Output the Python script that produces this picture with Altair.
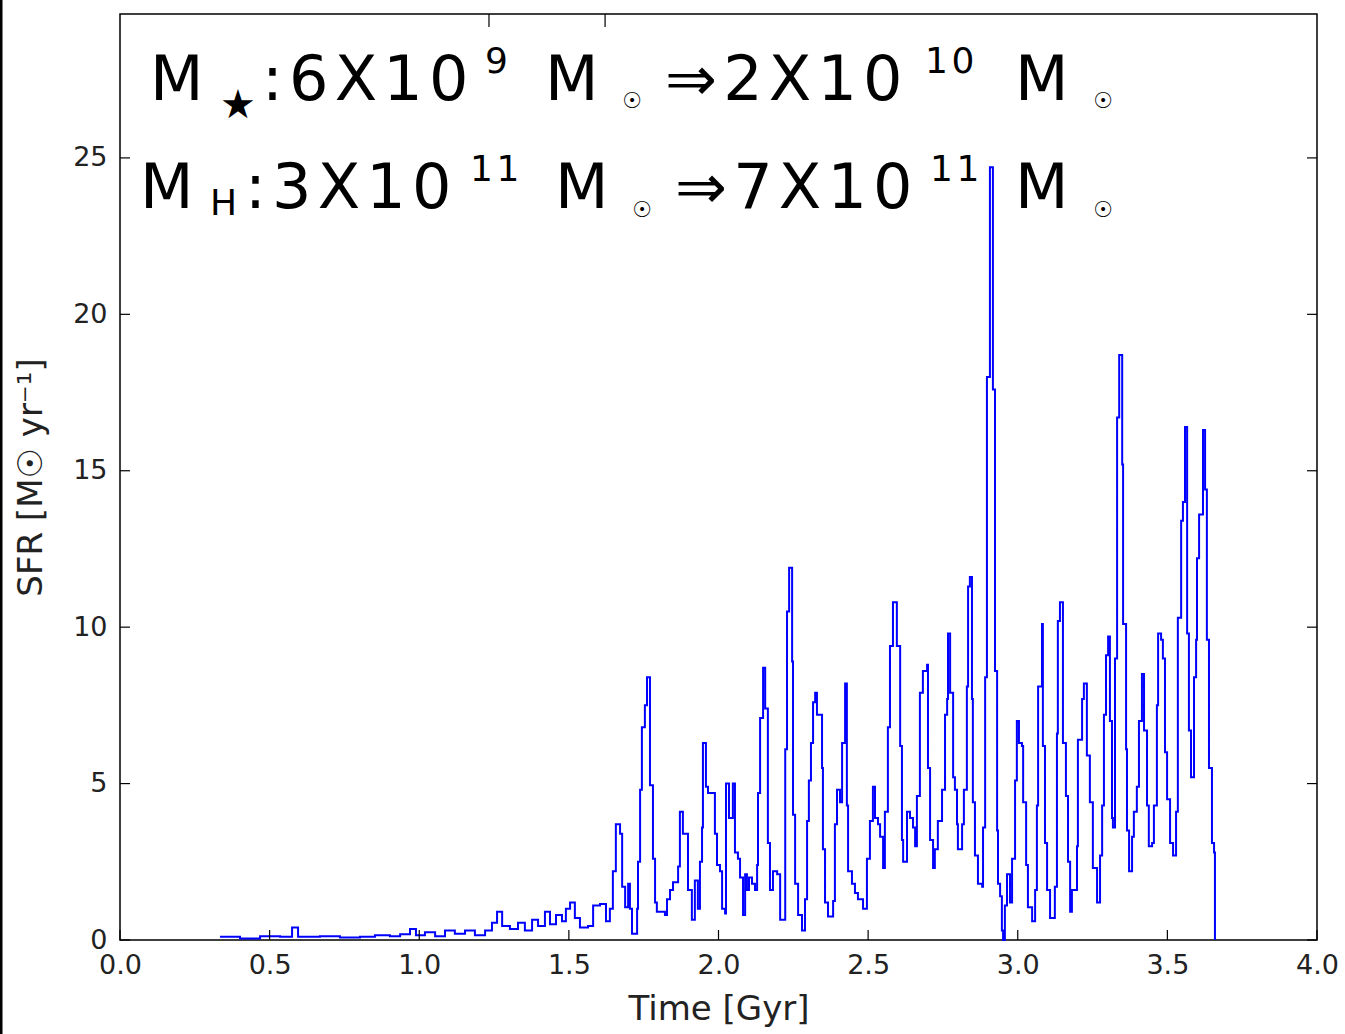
import altair as alt
import pandas as pd

# --- data (time in Gyr, SFR in Msun/yr) ---
time_gyr = [
    0.334, 0.401, 0.468, 0.535, 0.575, 0.595, 0.668, 0.735, 0.802, 0.852,
    0.902, 0.936, 0.969, 0.989, 1.019, 1.053, 1.086, 1.119, 1.153, 1.186,
    1.220, 1.243, 1.260, 1.277, 1.303, 1.330, 1.353, 1.377, 1.397, 1.420,
    1.437, 1.457, 1.477, 1.490, 1.504, 1.520, 1.537, 1.564, 1.581, 1.604,
    1.624, 1.637, 1.647, 1.657, 1.671, 1.678, 1.688, 1.698, 1.704, 1.711,
    1.728, 1.731, 1.738, 1.744, 1.754, 1.761, 1.771, 1.781, 1.788, 1.794,
    1.821, 1.828, 1.838, 1.848, 1.865, 1.871, 1.881, 1.898, 1.911, 1.921,
    1.931, 1.938, 1.945, 1.948, 1.958, 1.965, 1.988, 1.995, 2.005, 2.012,
    2.022, 2.025, 2.035, 2.048, 2.055, 2.065, 2.072, 2.082, 2.089, 2.095,
    2.102, 2.112, 2.122, 2.129, 2.132, 2.139, 2.149, 2.156, 2.165, 2.172,
    2.182, 2.196, 2.206, 2.223, 2.229, 2.236, 2.246, 2.249, 2.256, 2.266,
    2.279, 2.289, 2.296, 2.302, 2.309, 2.316, 2.323, 2.329, 2.346, 2.349,
    2.356, 2.366, 2.383, 2.389, 2.396, 2.406, 2.413, 2.423, 2.429, 2.433,
    2.446, 2.456, 2.466, 2.483, 2.496, 2.506, 2.516, 2.523, 2.533, 2.540,
    2.550, 2.556, 2.566, 2.573, 2.583, 2.596, 2.607, 2.613, 2.617, 2.630,
    2.640, 2.650, 2.657, 2.663, 2.673, 2.683, 2.697, 2.700, 2.707, 2.717,
    2.723, 2.733, 2.747, 2.757, 2.764, 2.767, 2.774, 2.784, 2.790, 2.797,
    2.800, 2.814, 2.820, 2.830, 2.834, 2.840, 2.847, 2.850, 2.857, 2.867,
    2.881, 2.884, 2.891, 2.897, 2.907, 2.917, 2.924, 2.931, 2.934, 2.941,
    2.947, 2.951, 2.957, 2.964, 2.974, 2.981, 2.991, 2.997, 3.004, 3.014,
    3.018, 3.028, 3.034, 3.048, 3.058, 3.064, 3.068, 3.081, 3.084, 3.091,
    3.098, 3.108, 3.124, 3.131, 3.134, 3.141, 3.151, 3.161, 3.168, 3.175,
    3.181, 3.198, 3.201, 3.215, 3.221, 3.231, 3.241, 3.251, 3.265, 3.275,
    3.282, 3.288, 3.295, 3.302, 3.308, 3.315, 3.318, 3.325, 3.332, 3.339,
    3.349, 3.352, 3.362, 3.365, 3.372, 3.382, 3.388, 3.398, 3.405, 3.415,
    3.422, 3.432, 3.438, 3.449, 3.455, 3.465, 3.469, 3.479, 3.485, 3.492,
    3.499, 3.509, 3.519, 3.529, 3.535, 3.546, 3.552, 3.559, 3.566, 3.572,
    3.579, 3.589, 3.596, 3.599, 3.606, 3.619, 3.626, 3.632, 3.639, 3.649,
    3.656, 3.659,
]
sfr = [
    0.10, 0.05, 0.12, 0.10, 0.40, 0.10, 0.12, 0.08, 0.10, 0.15,
    0.12, 0.18, 0.35, 0.15, 0.25, 0.12, 0.30, 0.20, 0.30, 0.15,
    0.30, 0.55, 0.90, 0.45, 0.35, 0.55, 0.30, 0.65, 0.45, 0.90,
    0.50, 0.80, 0.60, 1.00, 1.20, 0.70, 0.40, 0.45, 1.10, 1.15,
    0.60, 1.00, 2.20, 3.70, 3.40, 1.70, 1.05, 1.80, 1.00, 0.20,
    1.00, 2.50, 4.80, 6.80, 7.50, 8.40, 4.95, 2.60, 1.20, 0.90,
    0.80, 1.30, 1.60, 1.85, 2.35, 4.10, 3.40, 1.60, 0.65, 1.90,
    1.00, 2.50, 3.60, 6.30, 4.90, 4.70, 3.40, 2.40, 2.20, 1.00,
    0.85, 5.00, 3.90, 5.00, 2.80, 2.60, 2.00, 0.80, 2.10, 1.60,
    2.00, 1.80, 1.60, 2.40, 4.70, 7.10, 8.70, 7.40, 3.10, 1.60,
    2.20, 2.10, 0.65, 6.10, 10.50, 11.90, 8.90, 4.00, 1.80, 0.80,
    0.30, 1.30, 3.80, 5.10, 6.30, 7.60, 7.90, 7.20, 5.50, 2.90,
    1.20, 0.75, 1.25, 3.70, 4.80, 4.40, 6.30, 8.20, 4.30, 2.20,
    1.80, 1.50, 1.30, 1.00, 2.60, 3.80, 4.90, 3.90, 3.70, 3.30,
    2.30, 4.10, 6.80, 9.40, 10.80, 9.40, 6.20, 3.20, 2.50, 4.10,
    3.90, 3.60, 3.00, 4.60, 7.90, 8.60, 8.80, 5.50, 3.20, 2.30,
    2.90, 3.80, 4.80, 7.20, 7.70, 9.80, 7.90, 5.20, 4.80, 3.70,
    2.90, 3.70, 4.80, 8.10, 11.30, 11.60, 7.70, 4.40, 2.70, 1.80,
    1.70, 3.60, 8.40, 18.00, 24.70, 17.60, 8.60, 3.50, 1.80, 1.40,
    0.30, 0.00, 1.10, 2.10, 1.20, 2.60, 5.10, 7.00, 6.30, 6.20,
    4.40, 2.40, 1.05, 0.60, 1.60, 4.30, 8.10, 10.10, 6.20, 3.10,
    1.60, 0.70, 1.70, 6.60, 10.20, 10.80, 6.30, 4.60, 2.50, 0.90,
    1.60, 3.00, 6.40, 7.70, 8.20, 5.90, 4.40, 2.30, 1.20, 2.70,
    4.30, 7.20, 9.10, 9.70, 7.00, 3.90, 3.60, 9.00, 16.70, 18.70,
    15.20, 10.10, 6.10, 3.50, 2.20, 3.30, 4.10, 4.90, 7.00, 8.50,
    6.70, 4.30, 3.00, 3.10, 4.30, 7.50, 9.80, 9.60, 9.00, 6.00,
    4.50, 3.10, 2.70, 4.10, 10.30, 13.40, 14.00, 16.40, 9.80, 6.70,
    5.20, 8.40, 9.60, 12.20, 13.60, 16.30, 14.40, 9.60, 5.50, 3.10,
    2.80, 0.00,
]

x_ticks = [0.0, 0.5, 1.0, 1.5, 2.0, 2.5, 3.0, 3.5, 4.0]
top_ticks = [1.233, 1.621]   # unlabelled ticks on the upper frame
y_ticks = [0, 5, 10, 15, 20, 25]

W, H = 1197, 926
XDOM, YDOM = [0, 4], [0, 29.6]

df = pd.DataFrame({"t": time_gyr, "sfr": sfr})
xs = alt.Scale(domain=XDOM, nice=False, zero=False)
ys = alt.Scale(domain=YDOM, nice=False)

line = alt.Chart(df).mark_line(
    color="#0000ff", strokeWidth=2, interpolate="step-after"
).encode(
    x=alt.X("t:Q", scale=xs, title="Time [Gyr]",
            axis=alt.Axis(values=x_ticks, format=".1f", ticks=False, domain=False,
                          grid=False, labelPadding=12, titlePadding=14,
                          labelFlush=False, labelOverlap=False)),
    y=alt.Y("sfr:Q", scale=ys, title="SFR [M☉ yr⁻¹]",
            axis=alt.Axis(values=y_ticks, ticks=False, domain=False, grid=False,
                          labelPadding=13, titlePadding=24, labelFlush=False)),
)

xt = pd.DataFrame({"t": x_ticks})
tt = pd.DataFrame({"t": top_ticks})
yt = pd.DataFrame({"v": y_ticks})
tick_len = 10
xbot = alt.Chart(xt).mark_rule(color="black", strokeWidth=1.2).encode(
    x=alt.X("t:Q", scale=xs), y=alt.value(H), y2=alt.value(H - tick_len))
xtop = alt.Chart(tt).mark_rule(color="black", strokeWidth=1.2).encode(
    x=alt.X("t:Q", scale=xs), y=alt.value(0), y2=alt.value(tick_len + 3))
yleft = alt.Chart(yt).mark_rule(color="black", strokeWidth=1.2).encode(
    y=alt.Y("v:Q", scale=ys), x=alt.value(0), x2=alt.value(tick_len))
yright = alt.Chart(yt).mark_rule(color="black", strokeWidth=1.2).encode(
    y=alt.Y("v:Q", scale=ys), x=alt.value(W), x2=alt.value(W - tick_len))

# left black edge of the picture
edge = alt.Chart(pd.DataFrame({"a": [0]})).mark_rule(color="black", strokeWidth=3).encode(
    x=alt.value(-119), y=alt.value(-14), y2=alt.value(H + 94))

# annotation text pieces: (text, x, y, size, align, baseline)
HS = "\u200a"
pieces = [
    ("M", 30, 86, 62, "left", "alphabetic"),
    ("★", 118, 104, 40, "center", "alphabetic"),
    (HS.join(":6X10"), 142, 86, 62, "left", "alphabetic"),
    ("9", 365, 59, 36, "left", "alphabetic"),
    ("M", 425, 86, 62, "left", "alphabetic"),
    ("☉", 512, 87, 22, "center", "middle"),
    (HS.join("⇒2X10"), 545, 86, 62, "left", "alphabetic"),
    (HS.join("10"), 805, 59, 36, "left", "alphabetic"),
    ("M", 895, 86, 62, "left", "alphabetic"),
    ("☉", 983, 87, 22, "center", "middle"),
    ("M", 20, 194, 62, "left", "alphabetic"),
    ("H", 90, 201, 36, "left", "alphabetic"),
    (HS.join(":3X10"), 125, 194, 62, "left", "alphabetic"),
    (HS.join("11"), 350, 167, 36, "left", "alphabetic"),
    ("M", 435, 194, 62, "left", "alphabetic"),
    ("☉", 522, 196, 22, "center", "middle"),
    (HS.join("⇒7X10"), 555, 194, 62, "left", "alphabetic"),
    (HS.join("11"), 810, 167, 36, "left", "alphabetic"),
    ("M", 895, 194, 62, "left", "alphabetic"),
    ("☉", 983, 196, 22, "center", "middle"),
]
texts = []
for txt, px, py, size, al, bl in pieces:
    texts.append(
        alt.Chart(pd.DataFrame({"s": [txt]})).mark_text(
            font="DejaVu Sans", fontSize=size, align=al, baseline=bl, color="black"
        ).encode(text="s:N", x=alt.value(px), y=alt.value(py))
    )

chart = alt.layer(line, xbot, xtop, yleft, yright, edge, *texts).properties(
    width=W, height=H,
    autosize=alt.AutoSizeParams(type="none"),
    padding={"left": 120, "top": 14, "right": 28, "bottom": 94},
    background="white",
).configure_view(stroke="black", strokeWidth=1.5).configure_axis(
    labelFont="DejaVu Sans", labelFontSize=27, labelColor="#222",
    titleFont="DejaVu Sans", titleFontSize=34, titleColor="#222",
    titleFontWeight="normal",
)

chart.save("out.html", embed_options={"renderer": "svg", "actions": False})
